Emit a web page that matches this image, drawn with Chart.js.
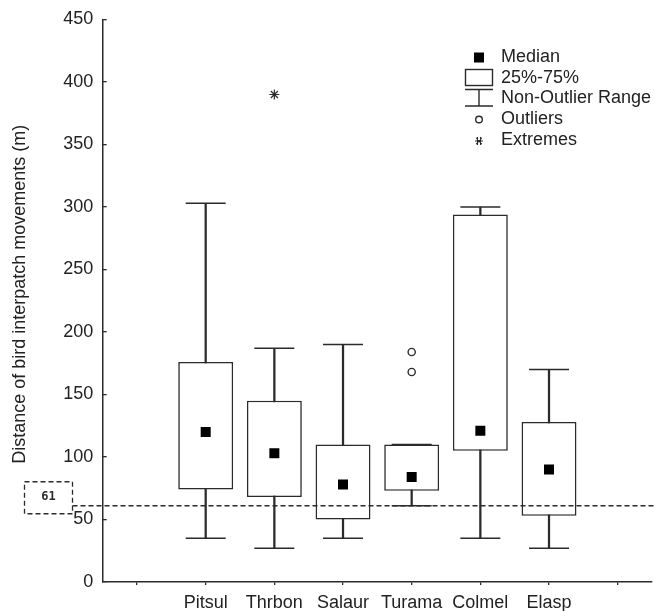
<!DOCTYPE html>
<html>
<head>
<meta charset="utf-8">
<script src="https://cdn.jsdelivr.net/npm/chart.js@4/dist/chart.umd.min.js"></script>
<style>
  html, body { margin: 0; padding: 0; background: #fff; }
  #wrap { width: 655px; height: 611px; position: relative; }
</style>
</head>
<body>
<div id="wrap"><canvas id="c" width="655" height="611"></canvas></div>
<script>
// ---- data ----
const categories  = ['', 'Pitsul', 'Thrbon', 'Salaur', 'Turama', 'Colmel', 'Elasp', ''];
const whiskerLow  = [null, 35, 27, 35, 61, 35, 27, null];
const q1          = [null, 74, 68, 50, 73, 105, 53, null];
const medians     = [null, 120, 103, 78, 84, 121, 90, null];
const q3          = [null, 176, 145, 110, 110, 294, 128, null];
const whiskerHigh = [null, 303, 187, 190, 110, 300, 170, null];
const outliers    = [{x: 'Turama', y: 184}, {x: 'Turama', y: 168}];
const extremes    = [{x: 'Thrbon', y: 390}];
const refValue    = 61;
const yTicks      = [0, 50, 100, 150, 200, 250, 300, 350, 400, 450];
const yTitle      = 'Distance of bird interpatch movements (m)';
const legendItems = ['Median', '25%-75%', 'Non-Outlier Range', 'Outliers', 'Extremes'];

const INK = '#2b2b2b';
const FONT = "'Liberation Sans', Arial, sans-serif";

const boxData = categories.map((c, i) => q1[i] == null ? null : [q1[i], q3[i]]);
const whiskerData = categories.map((c, i) => whiskerLow[i] == null ? null : [whiskerLow[i], whiskerHigh[i]]);

const overlayPlugin = {
  id: 'overlay',
  afterDatasetsDraw(chart) {
    const {ctx, chartArea, scales: {y}} = chart;
    const py = y.getPixelForValue(refValue);
    ctx.save();
    // reference label box
    ctx.strokeStyle = INK;
    ctx.lineWidth = 1.3;
    ctx.setLineDash([5, 3]);
    const bx = 24.5, bw = 48, by = py - 24, bh = 32;
    ctx.strokeRect(bx, by, bw, bh);
    // reference dashed line
    ctx.beginPath();
    ctx.moveTo(bx + bw, py);
    ctx.lineTo(chart.width, py);
    ctx.stroke();
    ctx.setLineDash([]);
    ctx.fillStyle = INK;
    ctx.font = "bold 12px 'DejaVu Sans Mono', monospace";
    ctx.textAlign = 'center';
    ctx.textBaseline = 'middle';
    ctx.fillText(String(refValue), bx + bw / 2, py - 8.5);

    // y-axis title
    ctx.save();
    ctx.translate(20.5, (chartArea.top + chartArea.bottom) / 2 - 6.5);
    ctx.rotate(-Math.PI / 2);
    ctx.font = '18px ' + FONT;
    ctx.fillStyle = '#222';
    ctx.textAlign = 'center';
    ctx.textBaseline = 'middle';
    ctx.fillText(yTitle, 0, 0);
    ctx.restore();

    // legend
    const sx = 479, tx = 501;
    const rows = [57.5, 78, 98.5, 119.5, 140];
    ctx.font = '18px ' + FONT;
    ctx.fillStyle = '#222';
    ctx.textAlign = 'left';
    ctx.textBaseline = 'middle';
    legendItems.forEach((t, i) => ctx.fillText(t, tx, rows[i]));
    ctx.lineWidth = 1.4;
    // median square
    ctx.fillStyle = '#000';
    ctx.fillRect(sx - 5, rows[0] - 5, 10, 10);
    // box
    ctx.strokeRect(465.5, 69.5, 27, 16);
    // whisker symbol
    ctx.beginPath();
    ctx.moveTo(465, 89.5); ctx.lineTo(493, 89.5);
    ctx.moveTo(479, 89.5); ctx.lineTo(479, 106);
    ctx.moveTo(465, 106); ctx.lineTo(493, 106);
    ctx.stroke();
    // outlier circle
    ctx.beginPath();
    ctx.arc(sx, rows[3], 3.3, 0, Math.PI * 2);
    ctx.stroke();
    // extreme asterisk
    ctx.lineWidth = 1.1;
    const ey = rows[4] + 1, r = 4;
    ctx.beginPath();
    ctx.moveTo(sx - r, ey); ctx.lineTo(sx + r, ey);
    ctx.moveTo(sx - r * 0.7, ey - r * 0.8); ctx.lineTo(sx + r * 0.7, ey + r * 0.8);
    ctx.moveTo(sx + r * 0.7, ey - r * 0.8); ctx.lineTo(sx - r * 0.7, ey + r * 0.8);
    ctx.moveTo(sx - 1.5, ey - r); ctx.lineTo(sx - 1.5, ey + r);
    ctx.moveTo(sx + 1.5, ey - r); ctx.lineTo(sx + 1.5, ey + r);
    ctx.stroke();
    ctx.restore();
  }
};

new Chart(document.getElementById('c'), {
  type: 'bar',
  data: {
    labels: categories,
    datasets: [
      {
        type: 'line', label: 'median', data: medians, showLine: false,
        pointStyle: 'rect', pointRadius: 7.07, pointBackgroundColor: '#000',
        pointBorderWidth: 0, order: 1
      },
      {
        type: 'line', label: 'outliers', data: outliers, showLine: false,
        pointStyle: 'circle', pointRadius: 3.6, pointBackgroundColor: '#fff',
        pointBorderColor: INK, pointBorderWidth: 1.4, order: 1
      },
      {
        type: 'line', label: 'extremes', data: extremes, showLine: false,
        pointStyle: 'star', pointRadius: 5, pointBorderColor: INK,
        pointBorderWidth: 1.2, order: 1
      },
      {
        type: 'line', label: 'capHigh', data: whiskerHigh, showLine: false,
        pointStyle: 'line', pointRadius: 20, pointBorderColor: INK,
        pointBorderWidth: 1.6, order: 2
      },
      {
        type: 'line', label: 'capLow', data: whiskerLow, showLine: false,
        pointStyle: 'line', pointRadius: 20, pointBorderColor: INK,
        pointBorderWidth: 1.6, order: 2
      },
      {
        label: 'box', data: boxData, grouped: false,
        backgroundColor: '#fff', borderColor: INK, borderWidth: 1.6,
        borderSkipped: false, barPercentage: 0.8, categoryPercentage: 1.0,
        order: 3
      },
      {
        label: 'whisker', data: whiskerData, grouped: false,
        backgroundColor: INK, borderWidth: 0, barThickness: 1.6,
        order: 4
      }
    ]
  },
  options: {
    responsive: false,
    animation: false,
    events: [],
    layout: { autoPadding: false, padding: { top: 19.5, right: 3, bottom: 0, left: 0 } },
    plugins: { legend: { display: false }, tooltip: { enabled: false } },
    scales: {
      x: {
        offset: true,
        grid: { offset: false, drawOnChartArea: false, drawTicks: true, tickLength: 3, color: INK, lineWidth: 1.3 },
        border: { color: INK, width: 1.5 },
        ticks: { color: '#222', font: { family: FONT, size: 18 }, padding: 7, autoSkip: false, maxRotation: 0 },
        afterFit(scale) { scale.height = 29; scale.paddingLeft = 0; scale.paddingRight = 0; }
      },
      y: {
        min: 0, max: 450,
        afterBuildTicks(scale) { scale.ticks = yTicks.map(v => ({value: v})); },
        grid: { drawOnChartArea: false, drawTicks: true, tickLength: -4, color: INK, lineWidth: 1.3 },
        border: { color: INK, width: 1.5 },
        ticks: { color: '#222', font: { family: FONT, size: 18 }, padding: 13.4 },
        afterFit(scale) { scale.width = 102.7; scale.paddingTop = 0; scale.paddingBottom = 0; }
      }
    }
  },
  plugins: [overlayPlugin]
});
</script>
</body>
</html>
